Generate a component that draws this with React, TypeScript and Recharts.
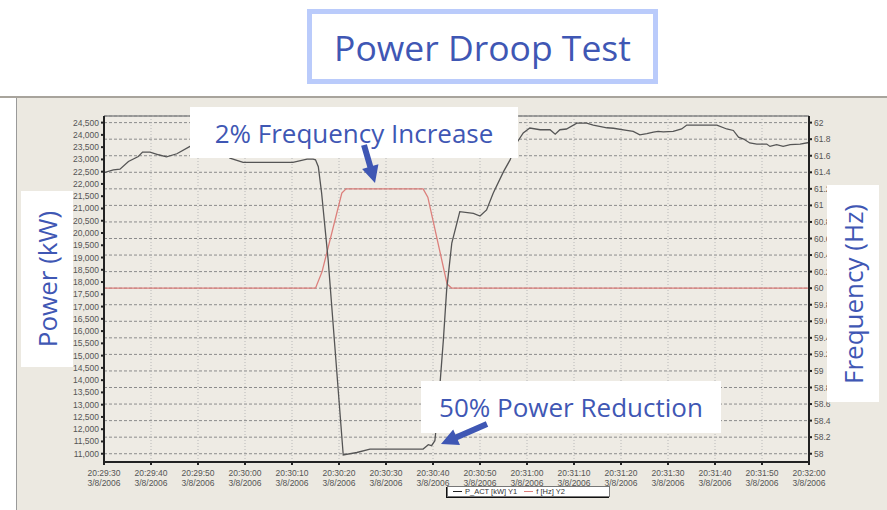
import React from "react";
import {
  ComposedChart, Line, XAxis, YAxis, CartesianGrid, ReferenceLine,
} from "recharts";

// seconds after 20:29:30
const powerTimes = [
  0, 2.0, 3.4, 5.2, 7.3, 8.2, 9.8, 11.6, 13.3, 15.5, 18.3, 21.0, 24.0, 26.8, 29.6,
  40.2, 43.2, 44.5, 45.0, 45.6, 46.3, 47.7, 50.9, 53.8, 56.6, 67.9, 69.0, 69.7,
  70.4, 71.1, 72.2, 72.9, 74.0, 75.7, 78.6, 80.0, 81.4, 82.8, 85.0, 86.4, 87.8,
  89.2, 90.6, 92.8, 94.9, 96.0, 97.0, 98.4, 100.6, 102.7, 104.1, 107.0, 108.4,
  111.2, 112.6, 114.0, 115.5, 116.9, 117.9, 119.0, 121.1, 122.9, 124.0, 130.4,
  132.5, 133.9, 135.0, 136.1, 137.4, 138.9, 141.0, 141.7, 143.1, 144.5, 146.0,
  148.1, 150,
];
const powerKw = [
  22460, 22575, 22600, 22915, 23120, 23300, 23300, 23190, 23105, 23230, 23530, 23750, 23600, 23050, 22880,
  22880, 23010, 23010, 22985, 22700, 21630, 18890, 10950, 11050, 11190, 11190, 11370, 11330,
  11530, 12890, 15620, 17670, 19590, 20870, 20800, 20690, 20940, 21620, 22500, 22980, 23670,
  24080, 24280, 24210, 24210, 24030, 24210, 24240, 24480, 24480, 24400, 24290, 24270,
  24180, 24140, 24000, 24050, 24110, 24140, 24120, 24140, 24240, 24400, 24400,
  24240, 24180, 23910, 23830, 23670, 23625, 23625, 23530, 23600, 23530, 23600,
  23625, 23690,
];

const freqTimes = [0, 45.0, 46.4, 50.6, 51.5, 67.9, 68.9, 73.0, 74.0, 150];
const freqHz = [60, 60, 60.2, 61.15, 61.2, 61.2, 61.1, 60.05, 60, 60];

const timeLabels = [
  "20:29:30", "20:29:40", "20:29:50", "20:30:00", "20:30:10", "20:30:20", "20:30:30", "20:30:40",
  "20:30:50", "20:31:00", "20:31:10", "20:31:20", "20:31:30", "20:31:40", "20:31:50", "20:32:00",
];
const dateLabel = "3/8/2006";
const timeTicks = timeLabels.map((_, i) => i * 10);

const powerTicks = Array.from({ length: 28 }, (_, i) => 11000 + i * 500);
const freqTicks = Array.from({ length: 21 }, (_, i) => Math.round((58 + i * 0.2) * 10) / 10);

const FREQ_DOMAIN: [number, number] = [57.9, 62.08];
const POWER_DOMAIN: [number, number] = [10662.5, 24770];

// merge both series on one time axis
const allTimes = Array.from(new Set([...powerTimes, ...freqTimes])).sort((a, b) => a - b);
const rows = allTimes.map((t) => {
  const pi = powerTimes.indexOf(t);
  const fi = freqTimes.indexOf(t);
  return { t, power: pi >= 0 ? powerKw[pi] : null, freq: fi >= 0 ? freqHz[fi] : null };
});

const BLUE = "#3F57B4";
const TICK_FONT = "'Liberation Sans', Arial, sans-serif";

function TimeTick({ x, y, payload }: any) {
  const i = Math.round(payload.value / 10);
  return (
    <g>
      <text x={x} y={y + 9} textAnchor="middle" fontSize={8.5} fill="#555" fontFamily={TICK_FONT}>{timeLabels[i]}</text>
      <text x={x} y={y + 19} textAnchor="middle" fontSize={8.5} fill="#555" fontFamily={TICK_FONT}>{dateLabel}</text>
    </g>
  );
}

function arrow(tail: [number, number], tip: [number, number], shaft = 6, head = 17, headLen = 17) {
  const dx = tip[0] - tail[0], dy = tip[1] - tail[1];
  const len = Math.hypot(dx, dy);
  const ux = dx / len, uy = dy / len;
  const nx = -uy, ny = ux;
  const bx = tip[0] - ux * headLen, by = tip[1] - uy * headLen;
  const p = [
    [tail[0] + nx * shaft / 2, tail[1] + ny * shaft / 2],
    [bx + nx * shaft / 2, by + ny * shaft / 2],
    [bx + nx * head / 2, by + ny * head / 2],
    tip,
    [bx - nx * head / 2, by - ny * head / 2],
    [bx - nx * shaft / 2, by - ny * shaft / 2],
    [tail[0] - nx * shaft / 2, tail[1] - ny * shaft / 2],
  ];
  return p.map((q) => q.join(",")).join(" ");
}

const noteText: React.CSSProperties = {
  fontFamily: "'Open Sans', sans-serif", color: BLUE, fontSize: 26, whiteSpace: "nowrap",
};

export default function App() {
  return (
    <div style={{ position: "absolute", left: 0, top: 0, width: 887, height: 510, background: "#fff", overflow: "hidden" }}>
      {/* beige chart panel */}
      <div style={{ position: "absolute", left: 0, top: 96, width: 887, height: 2, background: "#A8A49C" }} />
      <div style={{ position: "absolute", left: 16, top: 98, right: 0, bottom: 0, background: "#ECE9E1", borderLeft: "1px solid #9a9a9a" }} />

      {/* title */}
      <div style={{
        position: "absolute", left: 307, top: 9, width: 351, height: 75, boxSizing: "border-box",
        border: "5px solid #BACBFB", background: "#fff", display: "flex", alignItems: "center", justifyContent: "center",
        fontFamily: "'Open Sans', sans-serif", fontSize: 35.5, color: BLUE,
      }}>Power Droop Test</div>

      <div style={{ position: "absolute", left: 0, top: 0 }}>
        <ComposedChart width={887} height={510} data={rows} margin={{ top: 116, right: 0, bottom: 0, left: 0 }}>
          <CartesianGrid yAxisId="f" vertical={false} stroke="#8c8c8c" strokeDasharray="3 2" fill="#EEEBE4" />
          <CartesianGrid yAxisId="f" horizontal={false} stroke="#b8b8b8" strokeDasharray="1 2" />
          <XAxis
            dataKey="t" type="number" domain={[0, 150]} ticks={timeTicks} height={48} interval={0}
            tick={<TimeTick />} tickSize={3} stroke="#222" strokeWidth={2} allowDataOverflow
          />
          <YAxis
            yAxisId="p" type="number" domain={POWER_DOMAIN} ticks={powerTicks} width={104} allowDataOverflow interval={0}
            tickFormatter={(v: number) => v.toLocaleString("en-US")} tickSize={3} tickMargin={2}
            stroke="#222" strokeWidth={2}
            tick={{ fontSize: 8.5, fill: "#555", fontFamily: TICK_FONT }}
          />
          <YAxis
            yAxisId="f" orientation="right" type="number" domain={FREQ_DOMAIN} ticks={freqTicks} width={78} allowDataOverflow interval={0}
            tickFormatter={(v: number) => String(Number(v.toFixed(1)))} tickSize={3} tickMargin={2}
            stroke="#222" strokeWidth={2}
            tick={{ fontSize: 8.5, fill: "#555", fontFamily: TICK_FONT, textAnchor: "start" }}
          />
          <ReferenceLine yAxisId="p" y={POWER_DOMAIN[1]} stroke="#888" strokeWidth={1.5} />
          <Line yAxisId="f" dataKey="freq" type="linear" stroke="#DC7F7B" strokeWidth={1.3} dot={false} connectNulls isAnimationActive={false} />
          <Line yAxisId="p" dataKey="power" type="linear" stroke="#555" strokeWidth={1.3} dot={false} connectNulls isAnimationActive={false} />
        </ComposedChart>
      </div>

      {/* legend */}
      <div style={{
        position: "absolute", left: 447, top: 486, width: 163, height: 11, boxSizing: "border-box",
        background: "#fff", border: "1px solid #777", boxShadow: "-1px 1px 0 #111",
        fontFamily: TICK_FONT, fontSize: 7.5, color: "#333", display: "flex", alignItems: "center", paddingLeft: 5, gap: 3,
      }}>
        <span style={{ display: "inline-block", width: 9, height: 1, background: "#222" }} />
        <span>P_ACT [kW] Y1</span>
        <span style={{ display: "inline-block", width: 9, height: 1, background: "#DC7F7B", marginLeft: 4 }} />
        <span>f [Hz] Y2</span>
      </div>

      {/* annotation boxes */}
      <div style={{ position: "absolute", left: 190, top: 107, width: 328, height: 51, background: "#fff", display: "flex", alignItems: "center", justifyContent: "center" }}>
        <span style={noteText}>2% Frequency Increase</span>
      </div>
      <div style={{ position: "absolute", left: 421, top: 381, width: 300, height: 52, background: "#fff", display: "flex", alignItems: "center", justifyContent: "center" }}>
        <span style={noteText}>50% Power Reduction</span>
      </div>
      <div style={{ position: "absolute", left: 21, top: 191, width: 52, height: 176, background: "#fff" }}>
        <span style={{ ...noteText, position: "absolute", left: "50%", top: "50%", transform: "translate(-50%, -50%) rotate(-90deg)" }}>Power (kW)</span>
      </div>
      <div style={{ position: "absolute", left: 827, top: 185, width: 52, height: 217, background: "#fff" }}>
        <span style={{ ...noteText, position: "absolute", left: "50%", top: "50%", transform: "translate(-50%, -50%) rotate(-90deg)" }}>Frequency (Hz)</span>
      </div>

      <svg width={887} height={510} style={{ position: "absolute", left: 0, top: 0, pointerEvents: "none" }}>
        <polygon points={arrow([364, 145], [375, 183])} fill={BLUE} />
        <polygon points={arrow([487, 424], [441, 444])} fill={BLUE} />
      </svg>
    </div>
  );
}
